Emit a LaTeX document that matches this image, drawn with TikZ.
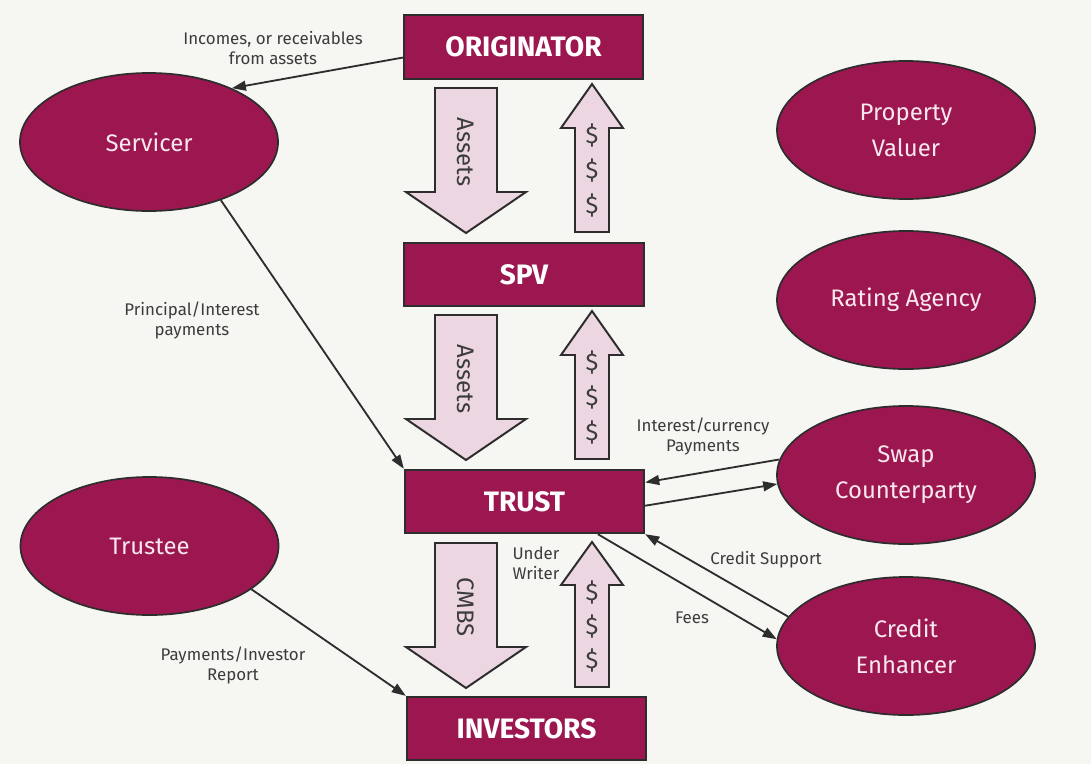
\documentclass[tikz,border=0pt]{standalone}
\usepackage{fontspec}
\setmainfont{Fira Sans}
\usetikzlibrary{shapes.geometric, arrows.meta, positioning, calc}

\definecolor{crimson}{RGB}{156,22,80}
\definecolor{paleflow}{RGB}{236,214,225}
\definecolor{edgegray}{RGB}{45,45,45}
\definecolor{labelgray}{RGB}{60,60,60}
\definecolor{pinkwhite}{RGB}{248,232,238}
\definecolor{papercol}{RGB}{246,246,243}

\begin{document}
\begin{tikzpicture}[
        x=0.025cm, y=-0.025cm,
        party/.style={
            rectangle,
            draw=edgegray,
            line width=1.5pt,
            fill=crimson,
            minimum width=5.98cm,
            minimum height=1.58cm,
            inner sep=0pt,
            text=white,
            font=\fontsize{20}{24}\selectfont\bfseries
        },
        agent/.style={
            ellipse,
            draw=edgegray,
            line width=1.2pt,
            fill=crimson,
            minimum width=6.45cm,
            minimum height=3.45cm,
            inner sep=0pt,
            align=center,
            text=pinkwhite,
            font=\fontsize{17}{25.6}\selectfont
        },
        flow/.style={
            draw=edgegray,
            line width=1.4pt,
            fill=paleflow,
            line join=miter
        },
        flowtext/.style={
            font=\fontsize{17}{20}\selectfont,
            text=labelgray
        },
        link/.style={
            draw=edgegray,
            line width=1.3pt,
            -{Triangle[length=10pt,width=7pt]}
        },
        linklabel/.style={
            font=\fontsize{12}{14.2}\selectfont,
            align=center,
            text=labelgray
        }
    ]

    % Paper
    \fill[papercol] (0,0) rectangle (1091,764);

    % Main chain of parties
    \node[party] (originator) at (523.5,47) {ORIGINATOR};
    \node[party] (spv) at (524,274.5) {SPV};
    \node[party] (trust) at (524.5,501.5) {TRUST};
    \node[party] (investors) at (526.5,728.5) {INVESTORS};

    % Outside agents
    \node[agent] (servicer) at (149,142) {Servicer};
    \node[agent] (trustee) at (149.5,546) {Trustee};
    \node[agent] (valuer) at (906,130) {Property\\Valuer};
    \node[agent] (rating) at (906,300) {Rating Agency};
    \node[agent] (swap) at (906,475) {Swap\\Counterparty};
    \node[agent] (enhancer) at (906,646) {Credit\\Enhancer};

    % Originator <-> SPV
    \draw[flow] (435,88) -- (497,88) -- (497,192) -- (526,192) -- (466,233)
        -- (406,192) -- (435,192) -- cycle;
    \draw[flow] (575,232) -- (609,232) -- (609,128) -- (623,128) -- (592,84)
        -- (561,128) -- (575,128) -- cycle;
    \node[flowtext, rotate=-90] (assetsone) at (466,152) {Assets};
    \node[flowtext] (cashonea) at (592,135) {\$};
    \node[flowtext] (cashoneb) at (592,170) {\$};
    \node[flowtext] (cashonec) at (592,205) {\$};

    % SPV <-> Trust
    \begin{scope}[shift={(0,227)}]
        \draw[flow] (435,88) -- (497,88) -- (497,192) -- (526,192) -- (466,233)
            -- (406,192) -- (435,192) -- cycle;
        \draw[flow] (575,232) -- (609,232) -- (609,128) -- (623,128) -- (592,84)
            -- (561,128) -- (575,128) -- cycle;
        \node[flowtext, rotate=-90] (assetstwo) at (466,152) {Assets};
        \node[flowtext] (cashtwoa) at (592,135) {\$};
        \node[flowtext] (cashtwob) at (592,170) {\$};
        \node[flowtext] (cashtwoc) at (592,205) {\$};
    \end{scope}

    % Trust <-> Investors
    \begin{scope}[shift={(0,455)}]
        \draw[flow] (435,88) -- (497,88) -- (497,192) -- (526,192) -- (466,233)
            -- (406,192) -- (435,192) -- cycle;
        \draw[flow] (575,232) -- (609,232) -- (609,130) -- (623,130) -- (592,87)
            -- (561,130) -- (575,130) -- cycle;
        \node[flowtext, rotate=-90] (cmbs) at (466,152) {CMBS};
        \node[flowtext] (cashthreea) at (592,137) {\$};
        \node[flowtext] (cashthreeb) at (592,171) {\$};
        \node[flowtext] (cashthreec) at (592,205) {\$};
    \end{scope}

    % Payment links
    \draw[link] (originator.185) -- (servicer.33);
    \draw[link] (servicer.-39) -- (trust.north west);
    \draw[link] (trustee.-23) -- (investors.north west);
    \draw[link] (swap.173) -- (trust.9.5);
    \draw[link] (trust.-2.6) -- (swap.184);
    \draw[link] (enhancer.166) -- (trust.south east);
    \draw[link] (trust.-24.7) -- (enhancer.177);

    % Labels
    \node[linklabel] (incomeslabel) at (273,48) {Incomes, or receivables\\from assets};
    \node[linklabel] (principallabel) at (192,320) {Principal/Interest\\payments};
    \node[linklabel] (reportlabel) at (233,665) {Payments/Investor\\Report};
    \node[linklabel] (swaplabel) at (703,436) {Interest/currency\\Payments};
    \node[linklabel] (supportlabel) at (766,560) {Credit Support};
    \node[linklabel] (feeslabel) at (692,618) {Fees};
    \node[linklabel, align=left] (underwriterlabel) at (536,563) {Under\\Writer};

\end{tikzpicture}
\end{document}
